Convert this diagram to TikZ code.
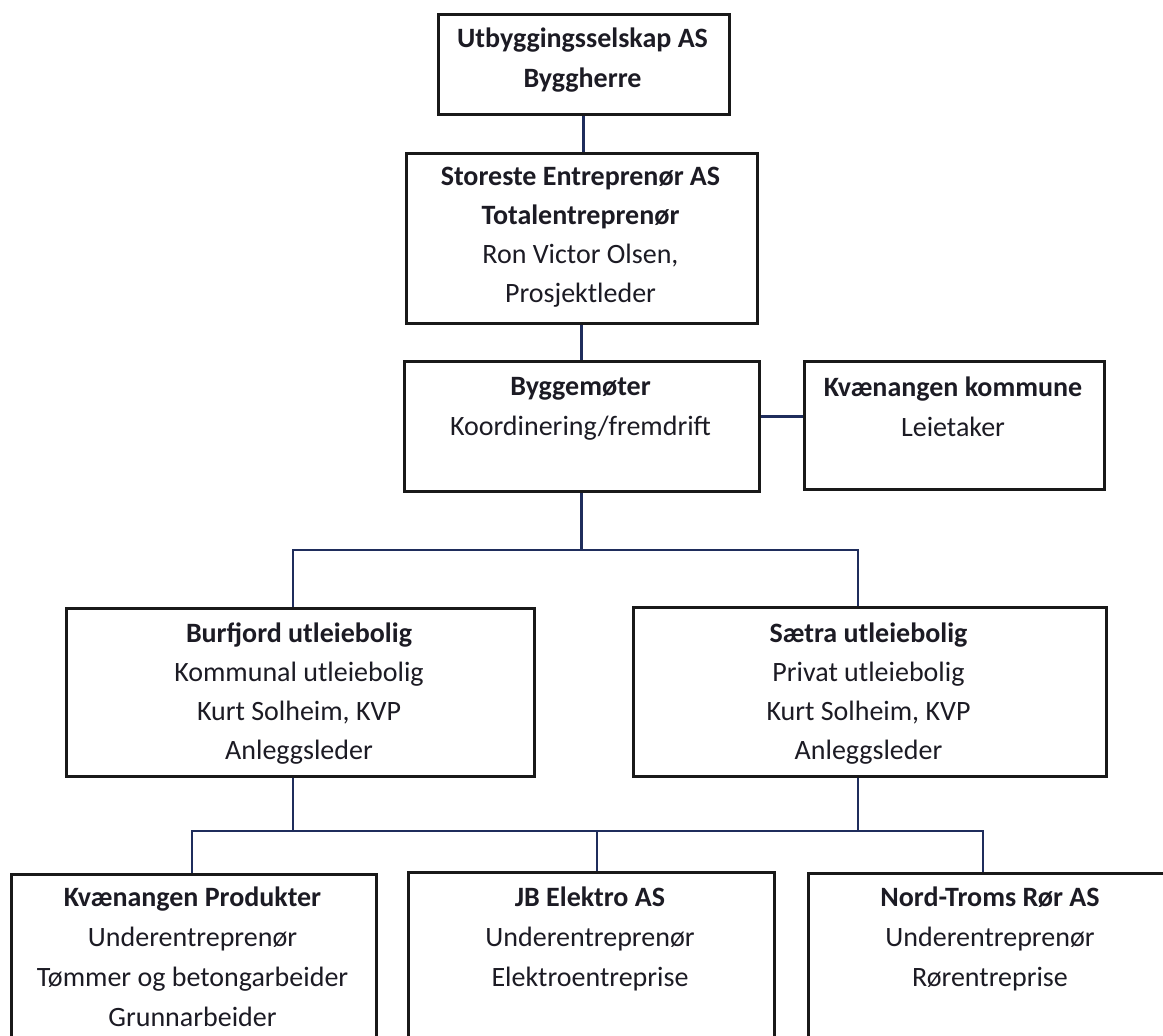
\documentclass[tikz,border=0pt]{standalone}
\usepackage{fontspec}
\setmainfont{Carlito}
\usetikzlibrary{calc}
\definecolor{conn}{HTML}{1F2D5C}
\definecolor{txt}{HTML}{1C1B24}
\begin{document}
\begin{tikzpicture}[x=1pt,y=-1pt,
  box/.style={draw=black!90, line width=2.6pt, rectangle, inner sep=0pt, anchor=north west, fill=white},
  ln/.style={anchor=base, inner sep=0pt, text=txt, font=\fontsize{28}{33}\selectfont},
  wire/.style={draw=conn, line width=2.8pt}]
\useasboundingbox (0,0) rectangle (1163,1036);
\clip (0,0) rectangle (1163,1036);
\fill[white] (0,0) rectangle (1163,1036);

% bus coordinates
\coordinate (ja) at (293,550);
\coordinate (jb) at (858,550);
\coordinate (jc) at (192,831);
\coordinate (jd) at (597,831);
\coordinate (je) at (983,831);
\coordinate (jf) at (293,831);
\coordinate (jg) at (858,831);

% boxes
\node[box, minimum width=291pt, minimum height=100pt] (b1) at (437,13) {};
\node[box, minimum width=351pt, minimum height=170pt] (b2) at (405,152) {};
\node[box, minimum width=355pt, minimum height=130pt] (b3) at (403,360) {};
\node[box, minimum width=300pt, minimum height=128pt] (bk) at (803,360) {};
\node[box, minimum width=468pt, minimum height=168pt] (bb) at (65,607) {};
\node[box, minimum width=473pt, minimum height=169pt] (bs) at (632,606) {};
\node[box, minimum width=365pt, minimum height=220pt] (bp) at (10,873) {};
\node[box, minimum width=366pt, minimum height=220pt] (bj) at (407,871) {};
\node[box, minimum width=366pt, minimum height=220pt] (bn) at (807,872) {};

% connectors
\draw[wire] (b1.south) -- (b1.south |- b2.north);
\draw[wire] (b2.south) -- (b2.south |- b3.north);
\draw[wire] ([yshift=10pt]b3.east) -- ([yshift=10pt]b3.east -| bk.west);
\draw[wire] (b3.south) -- (b3.south |- ja);
\draw[wire] (ja |- bb.north) -- (ja) -- (jb) -- (jb |- bs.north);
\draw[wire] (jf |- bb.south) -- (jf);
\draw[wire] (jg |- bs.south) -- (jg);
\draw[wire] (jc |- bp.north) -- (jc) -- (je) -- (je |- bn.north);
\draw[wire] (jd) -- (jd |- bj.north);

% texts
\foreach \t [count=\i] in {\textbf{Utbyggingsselskap AS},\textbf{Byggherre}}
  \node[ln] (t1-\i) at (582.5,{47+(\i-1)*40}) {\t};
\foreach \t [count=\i] in {\textbf{Storeste Entreprenør AS},\textbf{Totalentreprenør},{Ron Victor Olsen,},Prosjektleder}
  \node[ln] (t2-\i) at (580.5,{185+(\i-1)*39}) {\t};
\foreach \t [count=\i] in {\textbf{Byggemøter},Koordinering/fremdrift}
  \node[ln] (t3-\i) at (580.5,{395+(\i-1)*40}) {\t};
\foreach \t [count=\i] in {\textbf{Kvænangen kommune},Leietaker}
  \node[ln] (tk-\i) at (953,{396+(\i-1)*40}) {\t};
\foreach \t [count=\i] in {\textbf{Burfjord utleiebolig},Kommunal utleiebolig,{Kurt Solheim, KVP},Anleggsleder}
  \node[ln] (tb-\i) at (299,{642+(\i-1)*39.3}) {\t};
\foreach \t [count=\i] in {\textbf{Sætra utleiebolig},Privat utleiebolig,{Kurt Solheim, KVP},Anleggsleder}
  \node[ln] (ts-\i) at (868.5,{642+(\i-1)*39.3}) {\t};
\foreach \t [count=\i] in {\textbf{Kvænangen Produkter},Underentreprenør,Tømmer og betongarbeider,Grunnarbeider}
  \node[ln] (tp-\i) at (192.5,{906+(\i-1)*40}) {\t};
\foreach \t [count=\i] in {\textbf{JB Elektro AS},Underentreprenør,Elektroentreprise}
  \node[ln] (tj-\i) at (590,{906+(\i-1)*40}) {\t};
\foreach \t [count=\i] in {\textbf{Nord-Troms Rør AS},Underentreprenør,Rørentreprise}
  \node[ln] (tn-\i) at (990,{906+(\i-1)*40}) {\t};
\end{tikzpicture}
\end{document}
